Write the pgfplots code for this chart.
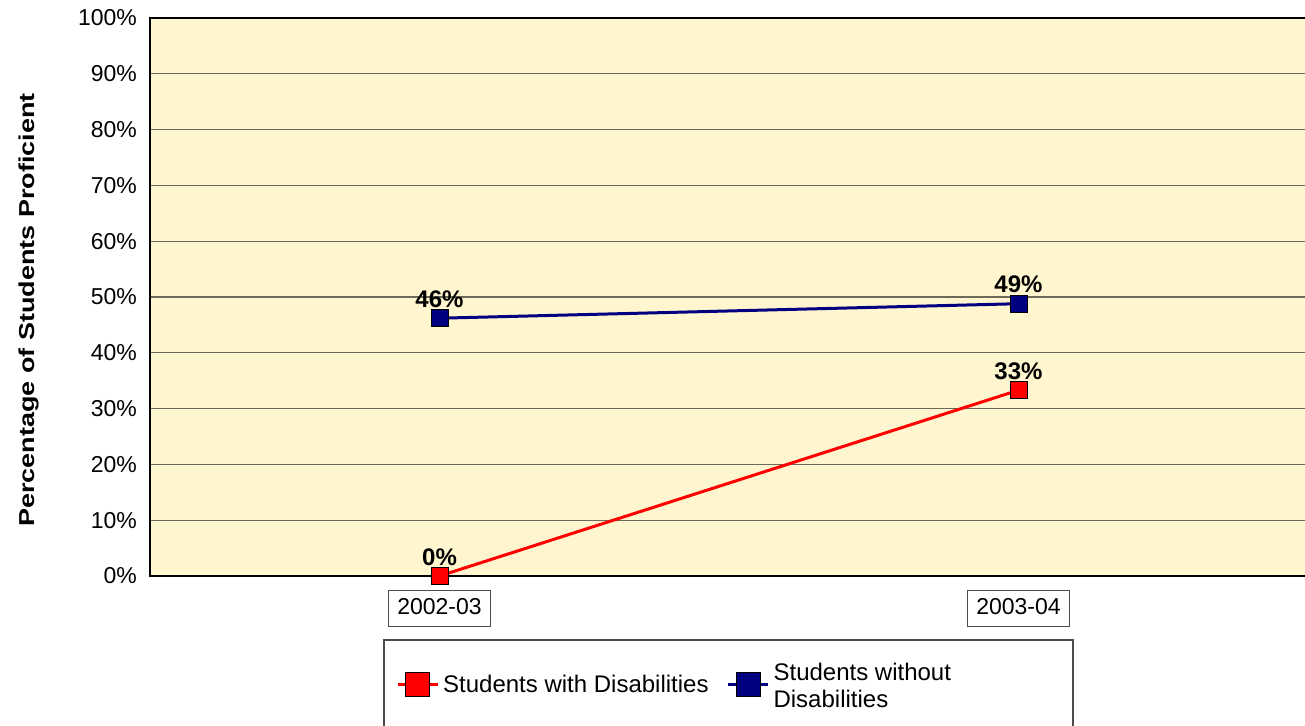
\documentclass[border=0pt]{standalone}
\usepackage{pgfplots}
\pgfplotsset{compat=1.18}
\usepackage{fontspec}
\setmainfont{Liberation Sans}
\definecolor{bgyellow}{RGB}{255,245,207}
\definecolor{gridc}{RGB}{110,106,90}
\definecolor{navyb}{RGB}{0,0,128}
\begin{document}
\begin{tikzpicture}[x=1pt,y=1pt]
\useasboundingbox (-75,-74.5) rectangle (577.5,288);
\draw[black!70, line width=0.7pt, fill=white] (117,-80) rectangle (461.5,-32);
\begin{axis}[
 at={(0,0)}, anchor=south west,
 scale only axis, width=579pt, height=279pt,
 xmin=-0.5, xmax=1.5, ymin=0, ymax=100,
 xtick={0,1}, xticklabels={2002-03,2003-04},
 ytick={0,10,...,100},
 yticklabel={\pgfmathprintnumber{\tick}\%},
 /pgf/number format/assume math mode=true,
 major tick length=0pt,
 ymajorgrids, grid style={gridc, line width=0.6pt},
 axis background/.style={fill=bgyellow},
 axis line style={black, line width=1.2pt},
 tick label style={font=\fontsize{11.5}{13}\selectfont},
 xticklabel style={draw=black!70, fill=white, inner xsep=4.25pt, inner ysep=3.5pt,
   text height=8.5pt, text depth=2.5pt, line width=0.6pt, yshift=-7pt},
 yticklabel style={xshift=-3pt},
 ylabel={\scalebox{1.25}[1]{Percentage of Students Proficient}},
 ylabel style={font=\bfseries\fontsize{10.8}{12}\selectfont, at={(axis description cs:-0.1045,0.477)}, anchor=center},
 nodes near coords,
 point meta=explicit symbolic,
 nodes near coords style={font=\bfseries\fontsize{12}{14}\selectfont, anchor=south, inner sep=0pt, yshift=5pt, text=black},
 legend columns=2,
 legend style={draw=none, fill=none, inner sep=0pt, at={(rel axis cs:0.2122,-0.1953)}, anchor=west,
   font=\fontsize{12}{13.5}\selectfont,
   /tikz/every even column/.append style={column sep=7pt}},
 legend cell align=left,
 legend image code/.code={\draw[mark repeat=2,mark phase=2] plot coordinates {(0pt,0pt) (10pt,0pt) (20pt,0pt)};},
 legend image post style={mark size=6pt},
 clip=false,
]
\addplot[red, line width=1.5pt, mark=square*, mark size=4.25pt,
  mark options={draw=black, line width=0.5pt, fill=red}]
  coordinates {(0,0) [0\%] (1,33.3) [33\%]};
\addlegendentry{Students with Disabilities}
\addplot[navyb, line width=1.5pt, mark=square*, mark size=4.25pt,
  mark options={draw=black, line width=0.5pt, fill=navyb}]
  coordinates {(0,46.2) [46\%] (1,48.8) [49\%]};
\addlegendentry{\raisebox{5pt}{\begin{tabular}[c]{@{}l@{}}Students without\\Disabilities\end{tabular}}}
\end{axis}
\end{tikzpicture}
\end{document}
